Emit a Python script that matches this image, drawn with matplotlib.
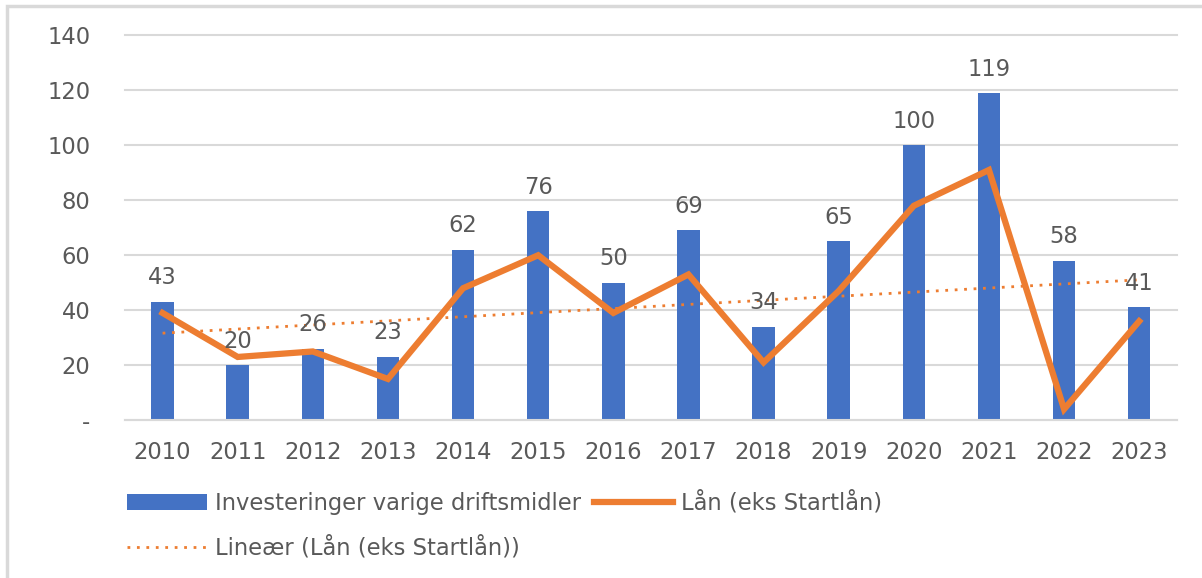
import matplotlib.pyplot as plt
import numpy as np
from matplotlib.patches import Rectangle

plt.rcParams['font.family'] = ['DejaVu Sans']

years = ['2010', '2011', '2012', '2013', '2014', '2015', '2016',
         '2017', '2018', '2019', '2020', '2021', '2022', '2023']
investeringer = [43, 20, 26, 23, 62, 76, 50, 69, 34, 65, 100, 119, 58, 41]
laan = [39, 23, 25, 15, 48, 60, 39, 53, 21, 47, 78, 91, 4, 36]
y_ticks = [0, 20, 40, 60, 80, 100, 120, 140]
y_labels = ['-', '20', '40', '60', '80', '100', '120', '140']

blue = '#4472C4'
orange = '#ED7D31'
grey = '#595959'
fs = 16.3

fig = plt.figure(figsize=(12.02, 5.78), dpi=100)
ax = fig.add_axes([0.104, 0.273, 0.875, 0.666])

x = np.arange(len(years))
bars = ax.bar(x, investeringer, width=0.3, color=blue, zorder=2,
              label='Investeringer varige driftsmidler')
line, = ax.plot(x, laan, color=orange, lw=4.5, zorder=3,
                solid_joinstyle='miter', label='Lån (eks Startlån)')

# linear trendline of the loan series
k, m = np.polyfit(x, laan, 1)
trend, = ax.plot(x, k * x + m, color=orange, lw=2, ls=(0, (1, 2.4)), zorder=4,
                 label='Lineær (Lån (eks Startlån))')

for xi, v in zip(x, investeringer):
    ax.annotate(str(v), (xi, v), xytext=(0, 9), textcoords='offset points',
                ha='center', va='bottom', fontsize=fs, color=grey, zorder=5)

ax.set_xlim(-0.5, len(years) - 0.5)
ax.set_ylim(0, 140)
ax.set_yticks(y_ticks)
ax.set_yticklabels(y_labels)
ax.set_xticks(x)
ax.set_xticklabels(years)
ax.tick_params(axis='both', length=0, labelsize=fs, labelcolor=grey)
ax.tick_params(axis='y', pad=25)
ax.tick_params(axis='x', pad=15)
ax.grid(axis='y', color='#D9D9D9', lw=1.5, zorder=0)
for gl in ax.get_ygridlines():
    gl.set_clip_on(False)
for s in ['top', 'right', 'left']:
    ax.spines[s].set_visible(False)
ax.spines['bottom'].set_color('#D9D9D9')
ax.spines['bottom'].set_linewidth(1.5)

leg = fig.legend([bars, trend, line],
                 ['Investeringer varige driftsmidler', 'Lineær (Lån (eks Startlån))',
                  'Lån (eks Startlån)'],
                 ncol=2, loc='upper left', bbox_to_anchor=(0.089, 0.185),
                 frameon=False, fontsize=fs, labelcolor=grey,
                 handlelength=3.5, handletextpad=0.35, columnspacing=0.6,
                 labelspacing=0.95)

fig.patches.append(Rectangle((0.006, -0.01), 1.1, 1.0, transform=fig.transFigure,
                             fill=False, edgecolor='#D9D9D9', lw=2.5))

fig.savefig('out.png', dpi=100)
